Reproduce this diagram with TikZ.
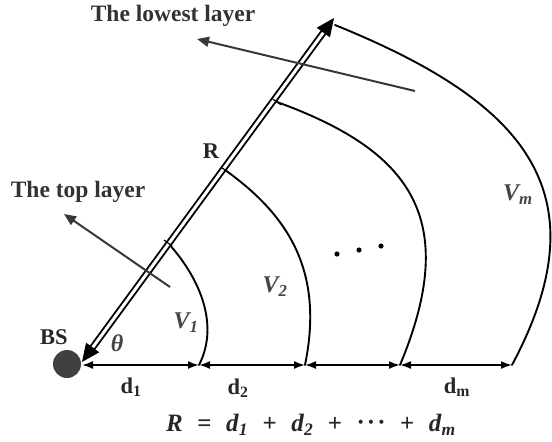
\documentclass[tikz,border=0pt]{standalone}
\usepackage{fontspec}
\setmainfont{Liberation Serif}
\usetikzlibrary{arrows.meta,calc}
\newcommand{\bisub}[2]{\textit{#1}\textsubscript{\textit{#2}}}
\newcommand{\mydots}{\raisebox{1pt}{·\kern2pt·\kern2pt·}}
\newcommand{\gap}{\hspace{14.5pt}}
\definecolor{txtgrey}{HTML}{333333}
\definecolor{vgrey}{HTML}{454545}
\definecolor{argrey}{HTML}{383838}
\begin{document}
\begin{tikzpicture}[x=1pt,y=1pt,
  curve/.style={line width=1.9pt, line cap=round},
  base/.style={line width=1.8pt, {Latex[length=11pt,width=8pt]}-{Latex[length=11pt,width=8pt]}},
  dbl/.style={line width=1.9pt, double=white, double distance=3pt},
  bigtip/.style={line width=1pt, -{Triangle[length=18pt,width=16pt]}},
  pointer/.style={draw=argrey, line width=2pt, -{Triangle[length=12pt,width=10pt]}},
  layertxt/.style={text=txtgrey, font=\fontsize{23.5}{26}\selectfont\bfseries},
  lbl/.style={text=black!85, font=\fontsize{22.5}{25}\selectfont\bfseries},
  vlbl/.style={text=vgrey, font=\fontsize{24}{26}\selectfont\bfseries\itshape},
  eqstyle/.style={text=black!85, font=\fontsize{25}{28}\selectfont\bfseries},
  tick/.style={line width=1.2pt},
  dotfill/.style={fill=black}]
\useasboundingbox (0,0) rectangle (552,-442);

\node[eqstyle] (formula) at (311,-425) {\textit{R}\gap=\gap\bisub{d}{1}\gap+\gap\bisub{d}{2}\gap+\gap\mydots\gap+\gap\bisub{d}{m}};

% key points
\coordinate (D0) at (82,-362);
\coordinate (D1) at (334,-18);
\coordinate (A1) at (168,-243);
\coordinate (A2) at (225,-170);
\coordinate (A3) at (277,-102);
\coordinate (Am) at (335,-25);
\coordinate (O) at (82,-365);
\coordinate (B1) at (199,-365);
\coordinate (B2) at (305,-365);
\coordinate (B3) at (400,-365);
\coordinate (Bm) at (512,-365);

% BS
\node[circle, fill=black!75, minimum size=28pt, inner sep=0pt] (bs) at (67,-364) {};

% arcs
\draw[curve] (A1) .. controls (199,-277) and (220,-324) .. (B1);
\draw[curve] (A2) .. controls (294,-219) and (323,-277) .. (B2);
\draw[curve] (A3) .. controls (409,-150) and (462,-217) .. (B3);
\draw[curve] (Am) .. controls (520,-100) and (606,-189) .. (Bm);

% baseline segments
\draw[base] (O) -- (B1);
\draw[base] (B1) -- (B2);
\draw[base] (B2) -- (B3);
\draw[base] (B3) -- (Bm);

% double line with arrow heads
\draw[dbl, shorten <=14pt, shorten >=12pt] (D0) -- (D1);
\draw[bigtip] ($(D0)!18pt!(D1)$) -- (D0);
\draw[bigtip] ($(D1)!14pt!(D0)$) -- (D1);

% ticks on double line
\foreach \pp in {A1,A2,A3}{
  \draw[tick] ($(\pp)!5pt!90:(D1)$) -- ($(\pp)!5pt!-90:(D1)$);
}

% dots
\fill[dotfill] (337,-254) circle (2.6pt);
\fill[dotfill] (359,-250) circle (2.6pt);
\fill[dotfill] (381,-246) circle (2.6pt);

% pointer arrows
\coordinate (tl0) at (170,-287);
\coordinate (tl1) at (64,-214);
\coordinate (ll0) at (415,-91);
\coordinate (ll1) at (197,-39);
\draw[pointer] (tl0) -- (tl1);
\draw[pointer] (ll0) -- (ll1);

% texts
\node[layertxt] (lowest) at (173,-16) {The lowest layer};
\node[layertxt] (top) at (78,-192) {The top layer};
\node[lbl] (bslbl) at (54,-337) {BS};
\node[lbl] (rlbl) at (211,-151) {R};
\node[lbl] (d1) at (131,-387) {d\textsubscript{1}};
\node[lbl] (d2) at (238,-388) {d\textsubscript{2}};
\node[lbl] (dm) at (457,-387) {d\textsubscript{m}};
\node[vlbl] (theta) at (117,-343) {θ};
\node[vlbl] (v1) at (186,-323) {V\textsubscript{1}};
\node[vlbl] (v2) at (275,-287) {V\textsubscript{2}};
\node[vlbl] (vm) at (518,-195) {V\textsubscript{m}};
\end{tikzpicture}
\end{document}
